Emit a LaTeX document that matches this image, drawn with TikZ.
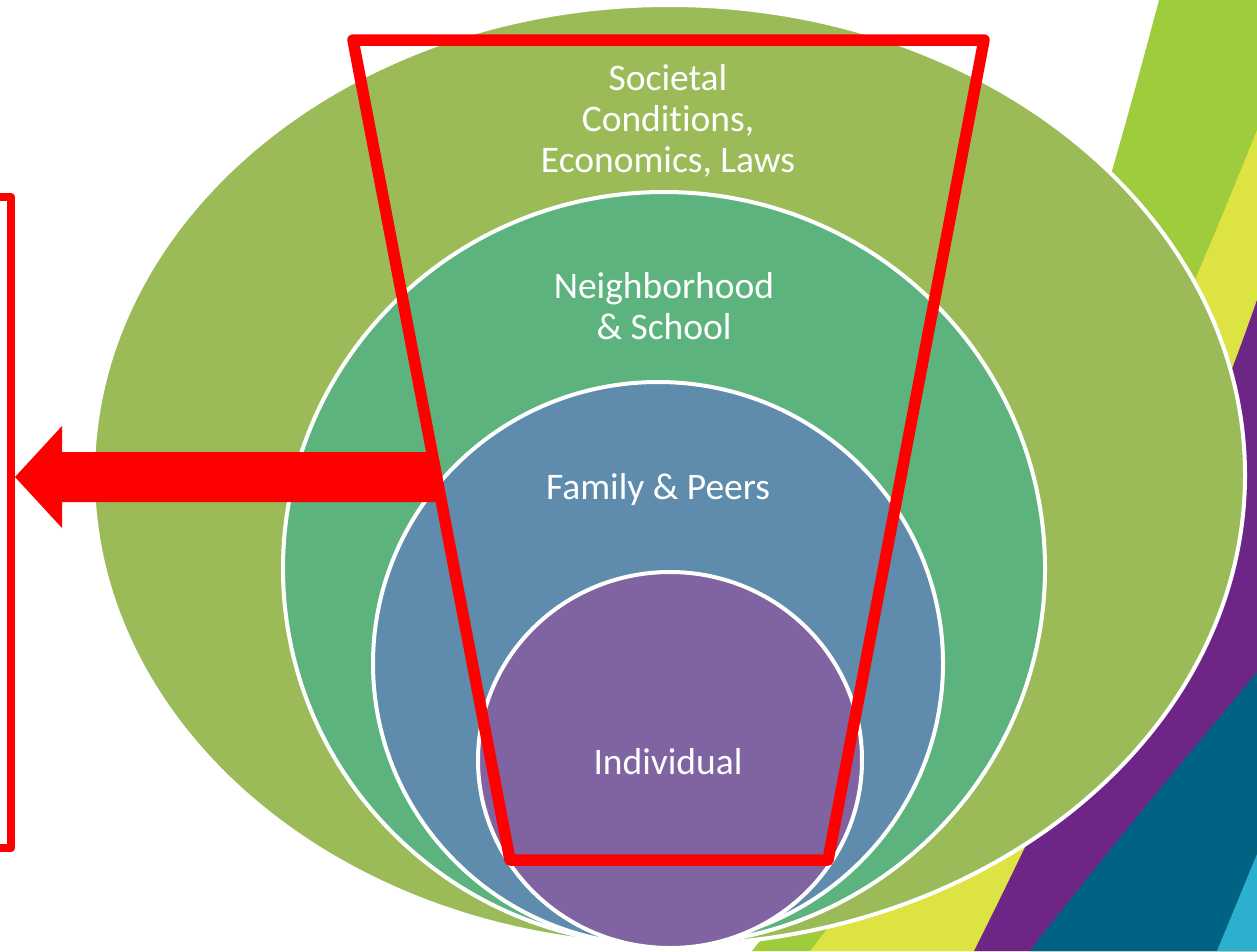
\documentclass[tikz,border=0pt]{standalone}
\usepackage{fontspec}
\setmainfont{Carlito}[Ligatures=NoCommon]
\usetikzlibrary{calc}
\definecolor{bandlime}{RGB}{158,204,60}
\definecolor{bandyellow}{RGB}{220,227,66}
\definecolor{bandpurple}{RGB}{110,38,134}
\definecolor{bandteal}{RGB}{0,99,132}
\definecolor{bandblue}{RGB}{43,176,208}
\definecolor{ringsoc}{RGB}{155,187,89}
\definecolor{ringnei}{RGB}{93,179,125}
\definecolor{ringfam}{RGB}{95,139,173}
\definecolor{ringind}{RGB}{128,100,162}
\definecolor{redmark}{RGB}{255,0,0}
\tikzset{
  ring/.style={draw=white, line width=4pt},
  lab/.style={text=white, font=\fontsize{37.5}{41}\selectfont, align=center, inner sep=0pt},
  redline/.style={draw=redmark, line join=round},
}
\begin{document}
\begin{tikzpicture}[x=1pt,y=-1pt]
\useasboundingbox (0,0) rectangle (1257,951);
\begin{scope}
\clip (0,0) rectangle (1257,951);
\fill[white] (0,0) rectangle (1257,951);
% background bands
\fill[bandlime] (1159,0) .. controls (1053,400) and (952,701) .. (752,951) -- (1257,951) -- (1257,0) -- cycle;
\fill[bandyellow] (1257,130) .. controls (1117,480) and (990,720) .. (810,951) -- (1257,951) -- cycle;
\fill[bandpurple] (1257,300) .. controls (1180,520) and (1060,780) .. (974,951) -- (1257,951) -- cycle;
\fill[bandteal] (1257,672) .. controls (1180,765) and (1100,860) .. (1030,951) -- (1257,951) -- cycle;
\fill[bandblue] (1257,854) -- (1217,951) -- (1257,951) -- cycle;
% nested rings
\path[ring, fill=ringsoc] (669,475) ellipse [x radius=576pt, y radius=470pt];
\path[ring, fill=ringnei] (664,568.5) ellipse [x radius=381pt, y radius=376.5pt];
\path[ring, fill=ringfam] (658,663.5) ellipse [x radius=285pt, y radius=281.5pt];
\path[ring, fill=ringind] (670,760) ellipse [x radius=192pt, y radius=188pt];
% labels
\node[lab] (soc) at (668,121) {Societal\\Conditions,\\Economics, Laws};
\node[lab] (nei) at (664,306) {Neighborhood\\\& School};
\node[lab] (fam) at (658,489) {Family \& Peers};
\node[lab] (ind) at (668,762) {Individual};
% red trapezoid
\coordinate (tl) at (353,40);
\coordinate (tr) at (984,40);
\coordinate (br) at (828,860);
\coordinate (bl) at (510,860);
\draw[redline, line width=11.5pt] (tl) -- (tr) -- (br) -- (bl) -- cycle;
% left red box
\coordinate (bxtl) at (-20,197);
\coordinate (bxbr) at (11,848);
\draw[redline, line width=8pt] (bxtl) rectangle (bxbr);
% block arrow
\coordinate (as) at (437,477);
\coordinate (at) at (15,477);
\fill[redmark] ($(as)+(0,-25)$) -- (62,452) -- (62,426) -- (at) -- (62,528) -- (62,502) -- ($(as)+(0,25)$) -- cycle;
\end{scope}
\end{tikzpicture}
\end{document}
